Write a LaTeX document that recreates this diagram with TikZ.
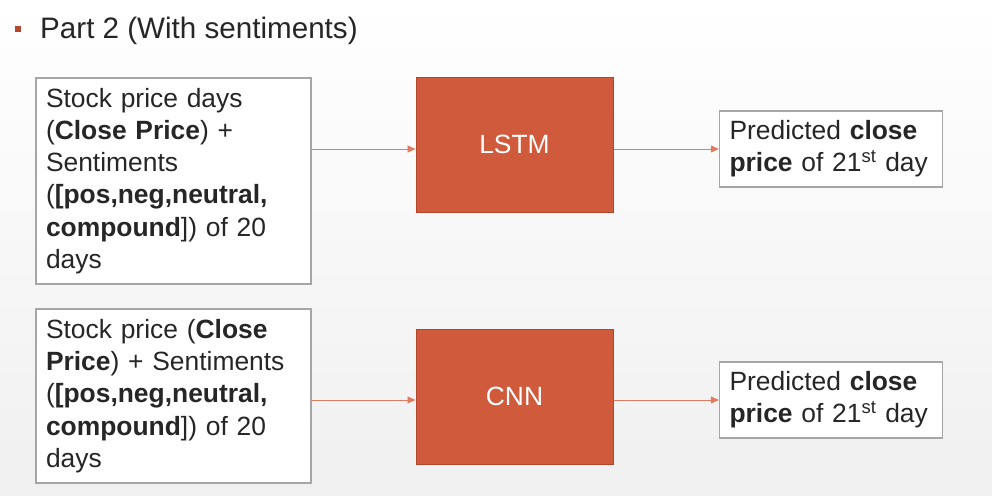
\documentclass[tikz,border=0pt]{standalone}
\usepackage{fontspec}
\setmainfont{Liberation Sans}
\usetikzlibrary{arrows.meta}
\definecolor{txt}{HTML}{262626}
\definecolor{boxborder}{HTML}{A6A6A6}
\definecolor{redfill}{HTML}{D05A3C}
\definecolor{redline}{HTML}{B4452B}
\definecolor{arrowc}{HTML}{E07A60}
\definecolor{bullet}{HTML}{B5472E}
\tikzset{
  inbox/.style={draw=boxborder, line width=1.3pt, fill=white, text=txt, align=left,
    inner xsep=10pt, font=\fontsize{26.4}{32.2}\selectfont},
  modelbox/.style={draw=redline, line width=1pt, fill=redfill, text=white,
    minimum width=197pt, minimum height=135pt, font=\fontsize{26.4}{32}\selectfont},
  flow/.style={draw=arrowc, line width=0.9pt, -{Triangle[length=8pt,width=7pt]}}
}
\begin{document}
\begin{tikzpicture}[x=1pt,y=-1pt]
\useasboundingbox (0,0) rectangle (992,495);
\shade[top color=white, bottom color=black!6] (0,0) rectangle (992,495);
\fill[bullet] (15,26) rectangle (21,32);
\node[anchor=base west, text=txt, font=\fontsize{29.6}{34}\selectfont, inner sep=0pt] (title) at (40,38.5) {Part 2 (With sentiments)};

\node[inbox, text width=255pt, minimum height=206pt] (in1) at (173.5,181)
  {Stock price days\\(\textbf{Close Price}) +\\Sentiments\\(\textbf{[pos,neg,neutral,}\\\textbf{compound}]) of 20\\days};
\node[inbox, text width=255pt, minimum height=174pt] (in2) at (173.5,396)
  {Stock price (\textbf{Close}\\\textbf{Price}) + Sentiments\\(\textbf{[pos,neg,neutral,}\\\textbf{compound}]) of 20\\days};

\node[modelbox] (lstm) at (514.5,144.5) {LSTM};
\node[modelbox] (cnn) at (514.5,396.5) {CNN};

\node[inbox, text width=203pt, minimum height=76pt] (out1) at (831,149)
  {Predicted \textbf{close}\\\textbf{price} of 21\textsuperscript{st} day};
\node[inbox, text width=203pt, minimum height=76pt] (out2) at (831,400)
  {Predicted \textbf{close}\\\textbf{price} of 21\textsuperscript{st} day};

\draw[flow] (in1.east |- out1.west) -- (lstm.west |- out1.west);
\draw[flow] (lstm.east |- out1.west) -- (out1.west);
\draw[flow] (in2.east |- out2.west) -- (cnn.west |- out2.west);
\draw[flow] (cnn.east |- out2.west) -- (out2.west);
\end{tikzpicture}
\end{document}
